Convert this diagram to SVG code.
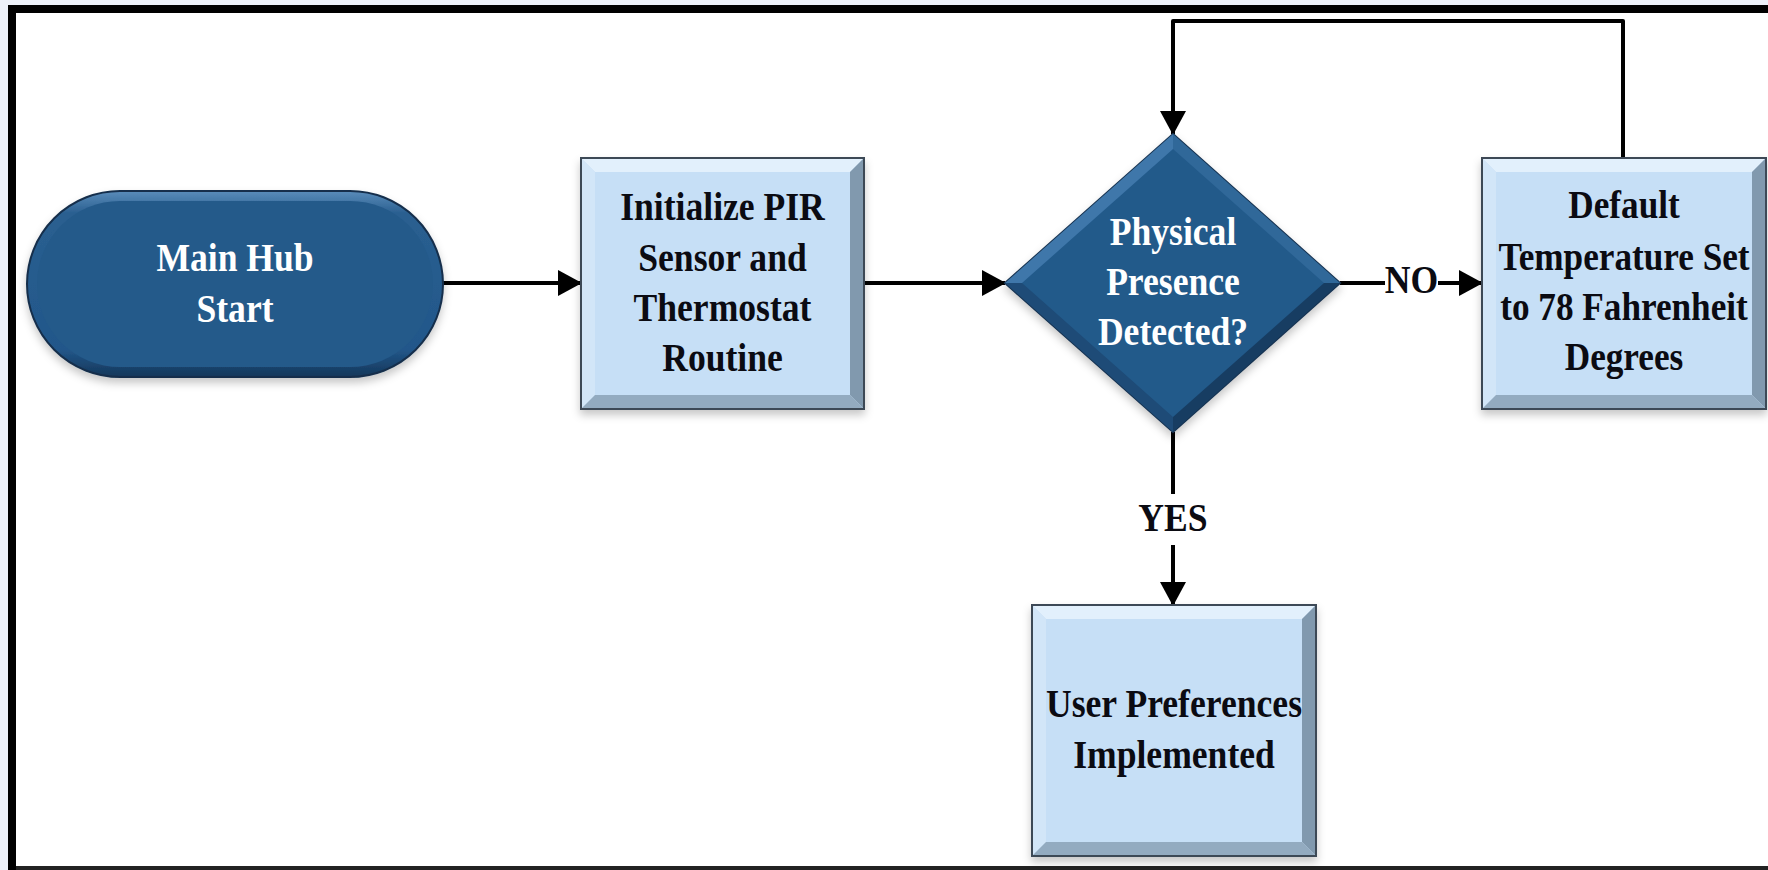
<svg xmlns="http://www.w3.org/2000/svg" width="1768" height="870" viewBox="0 0 1768 870">
  <style>
    .lbl { font-family: "Liberation Serif", "Times New Roman", serif; font-weight: bold; font-size: 40px; text-anchor: middle; }
    .lt { fill: #ffffff; }
    .dk { fill: #0b0b12; }
    .face { fill: #c6dff6; stroke: #3c4857; stroke-width: 2; }
    .bt { fill: #e2f0fc; }
    .bl { fill: #d2e6f8; }
    .br { fill: #8199ae; }
    .bb { fill: #93abc0; }
    .conn { fill: none; stroke: #000000; stroke-width: 4; stroke-linejoin: round; }
  </style>
  <defs>
    <marker id="ah" markerUnits="userSpaceOnUse" markerWidth="24" markerHeight="26" refX="23" refY="13" orient="auto">
      <path d="M0,0 L24,13 L0,26 z" fill="#000000"/>
    </marker>
    <linearGradient id="pillRim" x1="0" y1="0" x2="0" y2="1">
      <stop offset="0" stop-color="#5a8cba"/>
      <stop offset="0.12" stop-color="#2a5f90"/>
      <stop offset="0.85" stop-color="#22578a"/>
      <stop offset="1" stop-color="#15375a"/>
    </linearGradient>
    <filter id="sh" x="-10%" y="-10%" width="120%" height="125%">
      <feDropShadow dx="0" dy="5" stdDeviation="4" flood-color="#000000" flood-opacity="0.22"/>
    </filter>
  </defs>

  <!-- frame -->
  <rect x="0" y="0" width="1768" height="870" fill="#edf1f9"/>
  <rect x="16" y="13" width="1752" height="853" fill="#ffffff"/>
  <rect x="8" y="5" width="8" height="865" fill="#000000"/>
  <rect x="8" y="5" width="1760" height="8" fill="#000000"/>
  <rect x="16" y="866" width="1752" height="4" fill="#222222"/>

  <!-- connectors -->
  <g id="connectors">
    <line class="conn" x1="443" y1="283" x2="581" y2="283" marker-end="url(#ah)"/>
    <line class="conn" x1="864" y1="283" x2="1005" y2="283" marker-end="url(#ah)"/>
    <line class="conn" x1="1340" y1="283" x2="1385" y2="283"/>
    <line class="conn" x1="1438" y1="283" x2="1482" y2="283" marker-end="url(#ah)"/>
    <text class="lbl dk" transform="matrix(0.89 0 0 1 1411.5 0)" x="0" y="293">NO</text>
    <line class="conn" x1="1173" y1="432" x2="1173" y2="494"/>
    <line class="conn" x1="1173" y1="545" x2="1173" y2="605" marker-end="url(#ah)"/>
    <text class="lbl dk" transform="matrix(0.89 0 0 1 1173 0)" x="0" y="531">YES</text>
    <path class="conn" d="M1623,158 V21 H1173 V134" marker-end="url(#ah)"/>
  </g>

  <!-- start terminator -->
  <g id="start">
    <rect x="27" y="191" width="416" height="186" rx="93" fill="url(#pillRim)" stroke="#142f4c" stroke-width="2" filter="url(#sh)"/>
    <rect x="37" y="201" width="396" height="166" rx="83" fill="#245a8a"/>
    <g transform="matrix(0.89 0 0 1 235 0)">
      <text class="lbl lt" x="0" y="271">Main Hub</text>
      <text class="lbl lt" x="0" y="322">Start</text>
    </g>
  </g>

  <!-- initialize -->
  <g id="init">
    <rect class="face" x="581" y="158" width="283" height="251" filter="url(#sh)"/>
    <polygon class="bt" points="582,159 863,159 850,172 595,172"/>
    <polygon class="bl" points="582,159 595,172 595,395 582,408"/>
    <polygon class="br" points="863,159 863,408 850,395 850,172"/>
    <polygon class="bb" points="582,408 595,395 850,395 863,408"/>
    <g transform="matrix(0.89 0 0 1 722.5 0)">
      <text class="lbl dk" x="0" y="220">Initialize PIR</text>
      <text class="lbl dk" x="0" y="271">Sensor and</text>
      <text class="lbl dk" x="0" y="321">Thermostat</text>
      <text class="lbl dk" x="0" y="371">Routine</text>
    </g>
  </g>

  <!-- decision -->
  <g id="decision">
    <polygon points="1173,134 1340,283 1173,432 1005,283" fill="#245a8a" stroke="#173250" stroke-width="2" filter="url(#sh)"/>
    <polygon points="1005,283 1173,134 1173,149 1022,283" fill="#3f77aa"/>
    <polygon points="1173,134 1340,283 1324,283 1173,149" fill="#306899"/>
    <polygon points="1340,283 1173,432 1173,417 1324,283" fill="#173d62"/>
    <polygon points="1173,432 1005,283 1022,283 1173,417" fill="#1e4b77"/>
    <g transform="matrix(0.89 0 0 1 1173 0)">
      <text class="lbl lt" x="0" y="245">Physical</text>
      <text class="lbl lt" x="0" y="295">Presence</text>
      <text class="lbl lt" x="0" y="345">Detected?</text>
    </g>
  </g>

  <!-- default temperature -->
  <g id="default">
    <rect class="face" x="1482" y="158" width="284" height="251" filter="url(#sh)"/>
    <polygon class="bt" points="1483,159 1765,159 1752,172 1496,172"/>
    <polygon class="bl" points="1483,159 1496,172 1496,395 1483,408"/>
    <polygon class="br" points="1765,159 1765,408 1752,395 1752,172"/>
    <polygon class="bb" points="1483,408 1496,395 1752,395 1765,408"/>
    <g transform="matrix(0.88 0 0 1 1624 0)">
      <text class="lbl dk" x="0" y="218">Default</text>
      <text class="lbl dk" x="0" y="270">Temperature Set</text>
      <text class="lbl dk" x="0" y="320">to 78 Fahrenheit</text>
      <text class="lbl dk" x="0" y="370">Degrees</text>
    </g>
  </g>

  <!-- user preferences -->
  <g id="userprefs">
    <rect class="face" x="1032" y="605" width="284" height="251" filter="url(#sh)"/>
    <polygon class="bt" points="1033,606 1315,606 1302,619 1046,619"/>
    <polygon class="bl" points="1033,606 1046,619 1046,842 1033,855"/>
    <polygon class="br" points="1315,606 1315,855 1302,842 1302,619"/>
    <polygon class="bb" points="1033,855 1046,842 1302,842 1315,855"/>
    <g transform="matrix(0.89 0 0 1 1174 0)">
      <text class="lbl dk" x="0" y="717">User Preferences</text>
      <text class="lbl dk" x="0" y="768">Implemented</text>
    </g>
  </g>
</svg>
